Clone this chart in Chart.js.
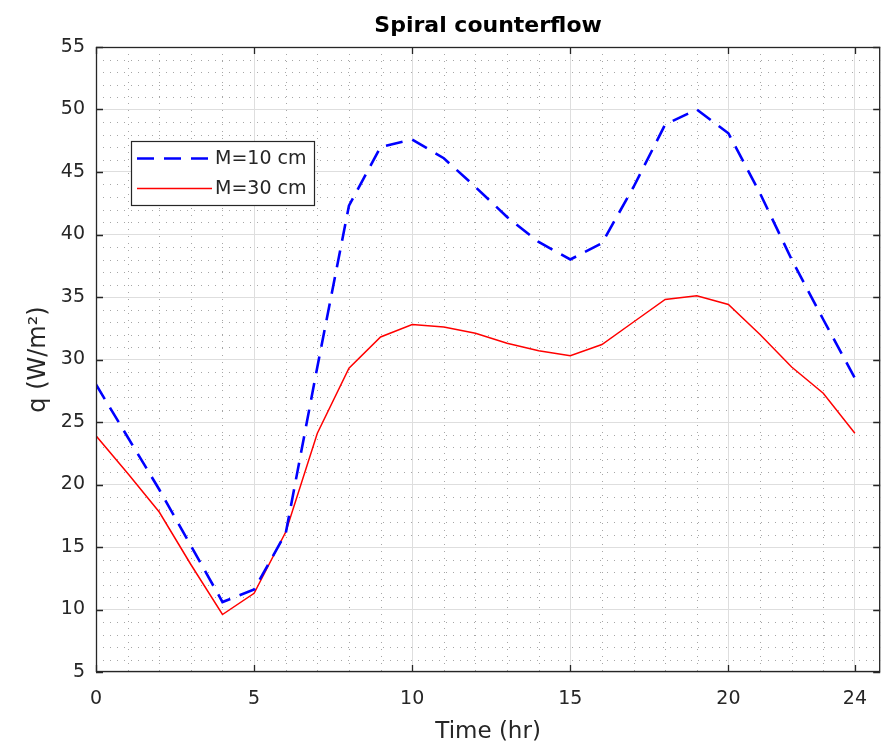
<!DOCTYPE html>
<html>
<head>
<meta charset="utf-8">
<script src="https://cdn.jsdelivr.net/npm/chart.js@4.4.1/dist/chart.umd.min.js"></script>
<style>
  body { margin: 0; background: #fff; }
</style>
</head>
<body>
<canvas id="myChart" width="883" height="749"></canvas>
<script>
// hours of the day
const hours = [0, 1, 2, 3, 4, 5, 6, 7, 8, 9, 10, 11, 12, 13, 14, 15, 16, 17, 18, 19, 20, 21, 22, 23, 24];

// heat flux q (W/m2)
const qM10 = [28.0, 23.8, 19.6, 15.1, 10.6, 11.6, 16.1, 29.4, 42.3, 47.0, 47.6, 46.1, 43.8, 41.4, 39.4, 38.0,
              39.3, 43.8, 48.8, 50.0, 48.1, 43.3, 38.0, 33.2, 28.5];
const qM30 = [23.9, 20.9, 17.8, 13.6, 9.6, 11.3, 16.2, 24.1, 29.3, 31.8, 32.8, 32.6, 32.1, 31.3, 30.7, 30.3,
              31.2, 33.0, 34.8, 35.1, 34.4, 32.0, 29.4, 27.3, 24.1];

const seriesLabels = ['M=10 cm', 'M=30 cm'];
const xTicks = [0, 5, 10, 15, 20, 24];
const chartTitle = 'Spiral counterflow';

const FONT = 'DejaVu Sans';
const INK = '#262626';

// minor dotted grid, title, box and inward ticks, legend inside the plot
const frame = {
  id: 'frame',
  beforeDatasetsDraw(chart) {
    const { ctx, chartArea: a, scales: { x, y } } = chart;
    ctx.save();
    ctx.strokeStyle = '#a6a6a6';
    ctx.lineWidth = 1;
    ctx.setLineDash([1, 6]);
    for (let v = 1; v < 24; v++) {
      if (v % 5 === 0) continue;
      const px = Math.round(x.getPixelForValue(v)) + 0.5;
      ctx.beginPath(); ctx.moveTo(px, a.top); ctx.lineTo(px, a.bottom); ctx.stroke();
    }
    for (let v = 6; v < 55; v++) {
      if (v % 5 === 0) continue;
      const py = Math.round(y.getPixelForValue(v)) + 0.5;
      ctx.beginPath(); ctx.moveTo(a.left, py); ctx.lineTo(a.right, py); ctx.stroke();
    }
    ctx.restore();
  },
  afterDraw(chart) {
    const { ctx, chartArea: a, scales: { x, y } } = chart;
    ctx.save();

    // title centred over the axes
    ctx.fillStyle = '#000';
    ctx.font = 'bold 22px "' + FONT + '"';
    ctx.textAlign = 'center';
    ctx.textBaseline = 'middle';
    ctx.fillText(chartTitle, (a.left + a.right) / 2, 26);

    ctx.strokeStyle = INK;
    ctx.lineWidth = 1.3;
    ctx.strokeRect(a.left + 0.5, a.top + 0.5, a.right - a.left - 1, a.bottom - a.top - 1);

    const tl = 7;
    ctx.beginPath();
    xTicks.forEach(v => {
      const px = Math.round(x.getPixelForValue(v)) + 0.5;
      ctx.moveTo(px, a.bottom); ctx.lineTo(px, a.bottom - tl);
      ctx.moveTo(px, a.top); ctx.lineTo(px, a.top + tl);
    });
    for (let v = 5; v <= 55; v += 5) {
      const py = Math.round(y.getPixelForValue(v)) + 0.5;
      ctx.moveTo(a.left, py); ctx.lineTo(a.left + tl, py);
      ctx.moveTo(a.right, py); ctx.lineTo(a.right - tl, py);
    }
    ctx.stroke();

    // legend box
    const bx = 131, by = 141, bw = 183, bh = 64;
    ctx.fillStyle = '#fff';
    ctx.fillRect(bx, by, bw, bh);
    ctx.lineWidth = 1.2;
    ctx.strokeStyle = INK;
    ctx.strokeRect(bx + 0.5, by + 0.5, bw, bh);

    chart.data.datasets.forEach((ds, i) => {
      const ly = by + 17.5 + i * 30;
      ctx.beginPath();
      ctx.setLineDash(ds.borderDash || []);
      ctx.strokeStyle = ds.borderColor;
      ctx.lineWidth = ds.borderWidth;
      ctx.moveTo(137, ly); ctx.lineTo(212, ly);
      ctx.stroke();
      ctx.setLineDash([]);
      ctx.fillStyle = INK;
      ctx.font = '19px "' + FONT + '"';
      ctx.textBaseline = 'middle';
      ctx.textAlign = 'left';
      ctx.fillText(ds.label, 215, ly + 1);
    });
    ctx.restore();
  }
};

const ctx = document.getElementById('myChart').getContext('2d');
new Chart(ctx, {
  type: 'line',
  data: {
    labels: hours,
    datasets: [{
      label: seriesLabels[0],
      data: hours.map((h, i) => ({ x: h, y: qM10[i] })),
      borderColor: '#0000ff',
      borderWidth: 2.6,
      borderDash: [17, 10],
      pointRadius: 0,
      fill: false,
      tension: 0
    }, {
      label: seriesLabels[1],
      data: hours.map((h, i) => ({ x: h, y: qM30[i] })),
      borderColor: '#ff0000',
      borderWidth: 1.5,
      pointRadius: 0,
      fill: false,
      tension: 0
    }]
  },
  options: {
    responsive: false,
    animation: false,
    layout: { padding: { left: 0, right: 1, top: 47, bottom: 0 } },
    plugins: {
      legend: { display: false },
      tooltip: { enabled: false },
      title: { display: false }
    },
    scales: {
      x: {
        type: 'linear',
        min: 0,
        max: 24.8,
        afterBuildTicks: scale => { scale.ticks = xTicks.map(v => ({ value: v })); },
        afterFit: scale => { scale.height = 77; },
        grid: { color: '#dedede', drawTicks: false },
        border: { display: false },
        ticks: {
          color: INK,
          font: { family: FONT, size: 19 },
          padding: 16,
          maxRotation: 0,
          autoSkip: false
        },
        title: {
          display: true,
          text: 'Time (hr)',
          color: INK,
          font: { family: FONT, size: 23 },
          padding: { top: 0, bottom: 3 }
        }
      },
      y: {
        min: 5,
        max: 55,
        afterFit: scale => { scale.width = 96; },
        grid: { color: '#dedede', drawTicks: false },
        border: { display: false },
        ticks: {
          stepSize: 5,
          color: INK,
          font: { family: FONT, size: 19 },
          padding: 11
        },
        title: {
          display: true,
          text: 'q (W/m²)',
          color: INK,
          font: { family: FONT, size: 24 },
          padding: { top: 24, bottom: 0 }
        }
      }
    }
  },
  plugins: [frame]
});
</script>
</body>
</html>
